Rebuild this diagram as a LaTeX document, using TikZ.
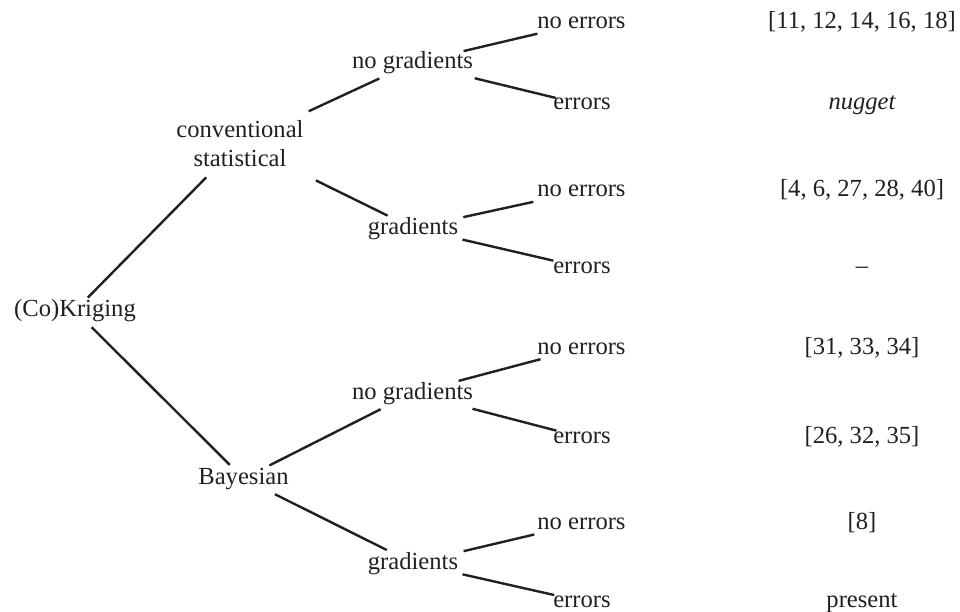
\documentclass[tikz,border=0pt]{standalone}
\usepackage{fontspec}
\setmainfont{Liberation Serif}
\definecolor{ink}{RGB}{35,31,32}
\begin{document}
\begin{tikzpicture}[x=1pt,y=-1pt,
  every node/.style={inner sep=0pt,outer sep=0pt,text=ink,anchor=base,
    font=\fontsize{24.6}{29}\selectfont},
  branch/.style={draw=ink,line width=2.4pt},
]
\useasboundingbox (0,0) rectangle (960,612);

% tree levels
\node (root) at (75,316.5) {(Co)Kriging};
\node[align=center,anchor=center] (conv) at (240,143.1) {conventional\\statistical};
\node (bay) at (243.5,484) {Bayesian};

\node (cng) at (412.5,69) {no gradients};
\node (cgr) at (413,234) {gradients};
\node (bng) at (412.5,399) {no gradients};
\node (bgr) at (413,569) {gradients};

\node (l1) at (581.5,29) {no errors};
\node (l2) at (582,110) {errors};
\node (l3) at (581.5,197) {no errors};
\node (l4) at (582,273) {errors};
\node (l5) at (581.5,354) {no errors};
\node (l6) at (582,443) {errors};
\node (l7) at (581.5,529) {no errors};
\node (l8) at (582,607) {errors};

% references column
\node (r1) at (862,29) {[11, 12, 14, 16, 18]};
\node (r2) at (862,110) {\itshape nugget};
\node (r3) at (862,197) {[4, 6, 27, 28, 40]};
\node (r4) at (862,273) {–};
\node (r5) at (862,354) {[31, 33, 34]};
\node (r6) at (862,443) {[26, 32, 35]};
\node (r7) at (862,529) {[8]};
\node (r8) at (862,607) {present};

% branches
\draw[branch,shorten <=18.3pt,shorten >=48.1pt] (root.center) -- (conv.center);
\draw[branch,shorten <=23.5pt,shorten >=19.3pt] (root.center) -- (bay.center);

\draw[branch,shorten <=75.7pt,shorten >=36.6pt] (conv.center) -- (cng.center);
\draw[branch,shorten <=84.5pt,shorten >=28.3pt] (conv.center) -- (cgr.center);
\draw[branch,shorten <=29.0pt,shorten >=35.7pt] (bay.center) -- (bng.center);
\draw[branch,shorten <=35.2pt,shorten >=29.3pt] (bay.center) -- (bgr.center);

\draw[branch,shorten <=52.5pt,shorten >=45.3pt] (cng.center) -- (l1.center);
\draw[branch,shorten <=64.0pt,shorten >=27.0pt] (cng.center) -- (l2.center);
\draw[branch,shorten <=51.5pt,shorten >=49.3pt] (cgr.center) -- (l3.center);
\draw[branch,shorten <=50.8pt,shorten >=29.5pt] (cgr.center) -- (l4.center);
\draw[branch,shorten <=47.7pt,shorten >=42.4pt] (bng.center) -- (l5.center);
\draw[branch,shorten <=62.0pt,shorten >=26.4pt] (bng.center) -- (l6.center);
\draw[branch,shorten <=52.0pt,shorten >=48.5pt] (bgr.center) -- (l7.center);
\draw[branch,shorten <=50.8pt,shorten >=28.5pt] (bgr.center) -- (l8.center);
\end{tikzpicture}
\end{document}
